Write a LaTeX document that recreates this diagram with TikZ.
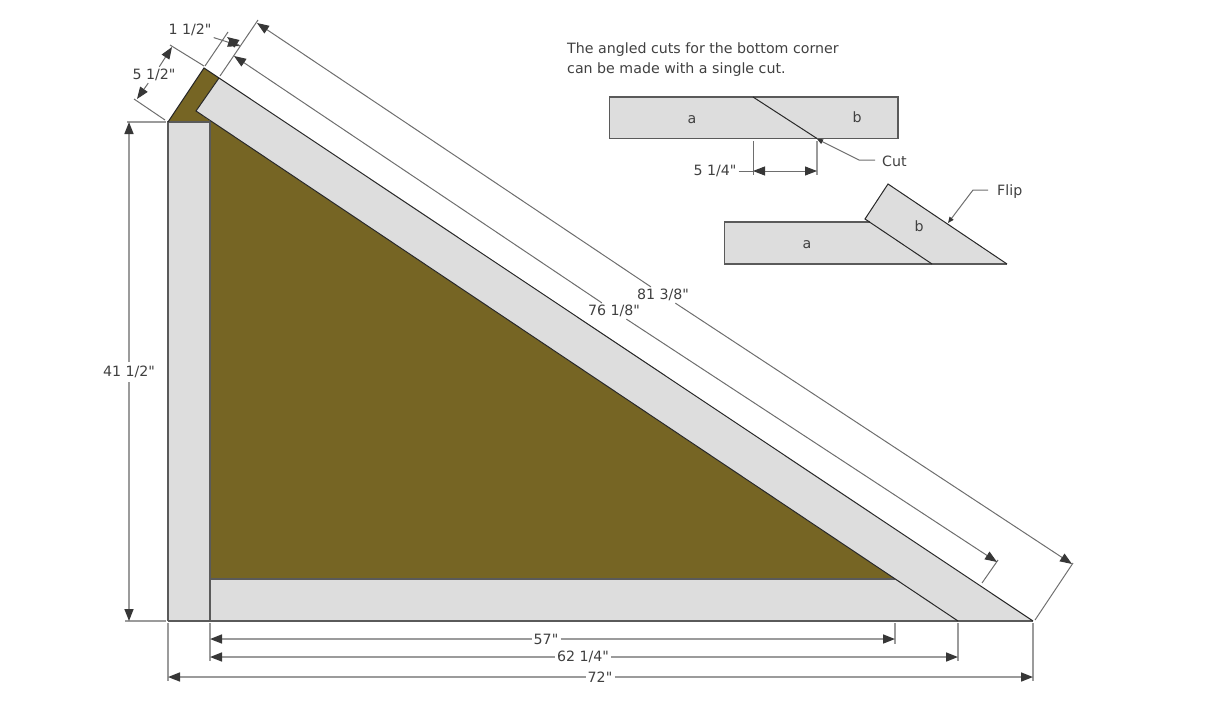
\documentclass[tikz,border=0pt]{standalone}
\usepackage{fontspec}
\setmainfont{DejaVu Sans}[Ligatures=TeXOff]
\usetikzlibrary{arrows.meta}
\definecolor{plywood}{RGB}{118,101,36}
\definecolor{board}{RGB}{221,221,221}
\definecolor{outline}{RGB}{40,40,40}
\definecolor{hvedge}{RGB}{90,90,90}
\definecolor{dimgrey}{RGB}{110,110,110}
\definecolor{hvgrey}{RGB}{155,155,155}
\definecolor{tipgrey}{RGB}{55,55,55}
\tikzset{
  >={Triangle[length=12pt,width=9pt,color=tipgrey]},
  slant/.style={draw=outline,line width=1pt},
  level/.style={draw=hvedge,line width=1.5pt},
  dimline/.style={draw=dimgrey,line width=1pt},
  hvline/.style={draw=hvgrey,line width=1.6pt},
  dimtext/.style={font=\fontsize{14.2pt}{17pt}\selectfont,text=black!75,inner sep=2pt},
  smalltip/.style={>={Triangle[length=6pt,width=5pt,color=tipgrey]}}
}
\begin{document}
\begin{tikzpicture}[x=1pt,y=-1pt]
\useasboundingbox (0,0) rectangle (1214,704);
% plywood
\fill[plywood] (168,122) -- (204,68) -- (219,78) -- (196,111) -- (210,121) -- (210,122) -- cycle;
\fill[plywood] (210,115) -- (900,579) -- (210,579) -- cycle;
% boards
\fill[board] (168,122) rectangle (210,621);
\fill[board] (210,579) -- (895,579) -- (958,621) -- (210,621) -- cycle;
\fill[board] (196,111) -- (219,78) -- (1033,621) -- (958,621) -- cycle;
\draw[level] (168,621) -- (168,122) -- (210,122) -- (210,621);
\draw[level] (210,579) -- (895,579);
\draw[level] (168,621) -- (1033,621);
\draw[slant] (168,122) -- (204,68) -- (1033,621);
\draw[slant] (219,78) -- (196,111) -- (958,621);
% extension lines
\coordinate (a1) at (204,66);
\coordinate (a2) at (170,45);
\coordinate (a3) at (165,120);
\coordinate (a4) at (134,99);
\draw[dimline] (a1) -- (a2);
\draw[dimline] (a3) -- (a4);
\coordinate (b1) at (205,66);
\coordinate (b2) at (228,32);
\coordinate (b3) at (220,76);
\coordinate (b4) at (258,20);
\draw[dimline] (b1) -- (b2);
\draw[dimline] (b3) -- (b4);
\coordinate (c1) at (982,583);
\coordinate (c2) at (998,560);
\coordinate (c3) at (1035,620);
\coordinate (c4) at (1073,563);
\draw[dimline] (c1) -- (c2);
\draw[dimline] (c3) -- (c4);
\coordinate (d1) at (127,122);
\coordinate (d2) at (166,122);
\coordinate (d3) at (125,621);
\coordinate (d4) at (166,621);
\draw[hvline] (d1) -- (d2);
\draw[hvline] (d3) -- (d4);
\coordinate (e1) at (168,623);
\coordinate (e2) at (168,681);
\coordinate (e3) at (210,623);
\coordinate (e4) at (210,661);
\coordinate (e5) at (895,623);
\coordinate (e6) at (895,644);
\coordinate (e7) at (958,623);
\coordinate (e8) at (958,661);
\coordinate (e9) at (1033,623);
\coordinate (e10) at (1033,681);
\draw[hvline] (e1) -- (e2);
\draw[hvline] (e3) -- (e4);
\draw[hvline] (e5) -- (e6);
\draw[hvline] (e7) -- (e8);
\draw[hvline] (e9) -- (e10);
% dimensions
\node[dimtext] (len55) at (154,75) {5 1/2"};
\coordinate (len55a) at (172,47);
\coordinate (len55b) at (137,99);
\draw[dimline,->] (len55) -- (len55a);
\draw[dimline,->] (len55) -- (len55b);
\node[dimtext] (len15) at (190,30) {1 1/2"};
\coordinate (len15a) at (240,46);
\coordinate (len15b) at (227,37);
\draw[dimline,->] (len15) -- (len15a);
\draw[dimline,->] (len15a) -- (len15b);
\node[dimtext] (len76) at (614,311) {76 1/8"};
\coordinate (len76a) at (234,56);
\coordinate (len76b) at (997,562);
\draw[dimline,->] (len76) -- (len76a);
\draw[dimline,->] (len76) -- (len76b);
\node[dimtext] (len81) at (663,295) {81 3/8"};
\coordinate (len81a) at (257,23);
\coordinate (len81b) at (1072,564);
\draw[dimline,->] (len81) -- (len81a);
\draw[dimline,->] (len81) -- (len81b);
\node[dimtext,inner sep=4pt] (len41) at (129,372) {41 1/2"};
\coordinate (len41a) at (129,122);
\coordinate (len41b) at (129,621);
\draw[hvline,->] (len41) -- (len41a);
\draw[hvline,->] (len41) -- (len41b);
\node[dimtext] (len57) at (546,639) {57"};
\coordinate (len57a) at (210,639);
\coordinate (len57b) at (895,639);
\draw[hvline,->] (len57) -- (len57a);
\draw[hvline,->] (len57) -- (len57b);
\node[dimtext] (len62) at (583,657) {62 1/4"};
\coordinate (len62a) at (210,657);
\coordinate (len62b) at (958,657);
\draw[hvline,->] (len62) -- (len62a);
\draw[hvline,->] (len62) -- (len62b);
\node[dimtext] (len72) at (600,677) {72"};
\coordinate (len72a) at (168,677);
\coordinate (len72b) at (1033,677);
\draw[hvline,->] (len72) -- (len72a);
\draw[hvline,->] (len72) -- (len72b);
% note
\node[dimtext,align=left,anchor=west,inner sep=0pt] (note) at (567,60) {The angled cuts for the bottom corner\\[3pt]can be made with a single cut.};
% uncut board
\fill[board] (609.5,97) rectangle (898,138.5);
\draw[level] (609.5,97) rectangle (898,138.5);
\draw[slant] (753,97) -- (817,138.5);
\node[dimtext] (parta) at (692,120) {a};
\node[dimtext] (partb) at (857,117) {b};
\coordinate (f1) at (753,141);
\coordinate (f2) at (753,175);
\coordinate (f3) at (817,141);
\coordinate (f4) at (817,175);
\draw[dimline] (f1) -- (f2);
\draw[hvline] (f3) -- (f4);
\node[dimtext,inner sep=2pt] (len52) at (715,171) {5 1/4"};
\coordinate (len52a) at (753,171);
\coordinate (len52b) at (817,171);
\draw[dimline] (len52) -- (len52a);
\draw[dimline,<->] (len52a) -- (len52b);
\node[dimtext,anchor=west,inner sep=0pt,inner xsep=7pt] (cut) at (875,161) {Cut};
\coordinate (cutbend) at (859,160);
\coordinate (cuttip) at (817,139);
\draw[dimline,smalltip,->] (cut.west |- cutbend) -- (cutbend) -- (cuttip);
% flipped board
\fill[board] (724.5,222) -- (869.5,222) -- (932,264) -- (724.5,264) -- cycle;
\fill[board] (865,219) -- (888,184) -- (1007,264) -- (932,264) -- cycle;
\draw[level] (869.5,222) -- (724.5,222) -- (724.5,264) -- (1007,264);
\draw[slant] (932,264) -- (865,219) -- (888,184) -- (1007,264);
\node[dimtext] (parta2) at (807,245) {a};
\node[dimtext] (partb2) at (919,226) {b};
\node[dimtext,anchor=west,inner sep=0pt,inner xsep=9pt] (flip) at (988,192) {Flip};
\coordinate (flipbend) at (973,190);
\coordinate (fliptip) at (948,223);
\draw[dimline,smalltip,->] (flip.west |- flipbend) -- (flipbend) -- (fliptip);
\end{tikzpicture}
\end{document}
